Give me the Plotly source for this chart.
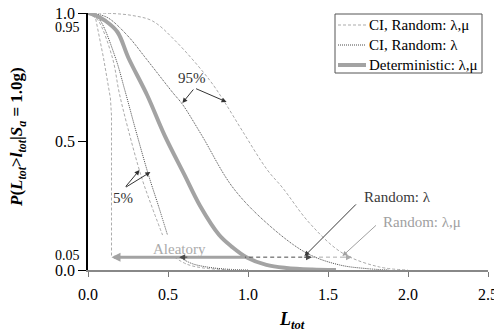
import plotly.graph_objects as go

# ---- data ----
det_x = [0, 0.05, 0.11, 0.184, 0.253, 0.37, 0.478, 0.603, 0.70, 0.82, 0.90, 0.99, 1.115, 1.24, 1.40, 1.55]
det_y = [1.0, 0.99, 0.969, 0.926, 0.825, 0.68, 0.525, 0.37, 0.25, 0.136, 0.09, 0.05, 0.02, 0.008, 0.002, 0.0]

lam95_x = [0, 0.06, 0.128, 0.25, 0.36, 0.53, 0.59, 0.71, 0.903, 1.116, 1.366, 1.57, 1.75, 1.88]
lam95_y = [1.0, 0.995, 0.98, 0.91, 0.825, 0.69, 0.645, 0.525, 0.323, 0.183, 0.066, 0.02, 0.005, 0.0]

lam5_x = [0, 0.04, 0.078, 0.172, 0.23, 0.30, 0.378, 0.44, 0.497, None, 0.57, 0.65, 0.74, 0.85, 1.0]
lam5_y = [1.0, 0.99, 0.969, 0.825, 0.70, 0.54, 0.37, 0.25, 0.136, None, 0.05, 0.025, 0.012, 0.004, 0.0]

lm95_x = [0, 0.153, 0.28, 0.403, 0.547, 0.76, 0.853, 0.966, 1.12, 1.216, 1.384, 1.59, 1.82, 2.0]
lm95_y = [1.0, 0.998, 0.99, 0.969, 0.891, 0.739, 0.654, 0.54, 0.39, 0.32, 0.183, 0.066, 0.012, 0.0]

lm5_x = [0, 0.03, 0.066, 0.153, 0.195, 0.25, 0.334, 0.40, 0.466, None, 0.54, 0.62, 0.72, 0.90]
lm5_y = [1.0, 0.99, 0.969, 0.825, 0.69, 0.55, 0.362, 0.245, 0.136, None, 0.05, 0.022, 0.008, 0.0]

drop_x = [0, 0.047, 0.097, 0.14, 0.147, 0.147]
drop_y = [1.0, 0.981, 0.825, 0.669, 0.60, 0.05]

level = 0.05
aleatory_x = [0.147, 0.99]
rand_lam_x = [0.57, 1.40]
rand_lm_x = [1.40, 1.65]

x_ticks = [0.0, 0.5, 1.0, 1.5, 2.0, 2.5]
x_ticktext = ["0.0", "0.5", "1.0", "1.5", "2.0", "2.5"]
y_ticks = [0.0, 0.5, 1.0]
y_ticktext = ["0.0", "0.5", "1.0"]
y_extra = [0.95, 0.05]
y_extratext = ["0.95", "0.05"]

legend_names = ["CI, Random: λ,μ", "CI, Random: λ", "Deterministic: λ,μ"]

FONT = "Liberation Serif"
LIGHT = "#ababab"
DARK = "#4a4a4a"
THICK = "#a3a3a3"
LDASH = "3px,2px"
DDOT = "1px,1px"

# the page body has an 8px margin, so the figure is sized to fit the window
OFF = 8
W, H = 502 - OFF, 331 - OFF
ML, MR, MT, MB = 80, 14, 5, 61
PW, PH = W - ML - MR, H - MT - MB

def px2paper(px, py):
    """window pixel -> paper coordinates"""
    fx, fy = px - OFF, py - OFF
    return (fx - ML) / PW, (H - MB - fy) / PH

fig = go.Figure()

styles = [dict(color=LIGHT, width=1, dash=LDASH),
          dict(color=DARK, width=1, dash=DDOT),
          dict(color=THICK, width=4)]

# CI random lambda,mu (light dashed)
fig.add_trace(go.Scatter(x=lm95_x, y=lm95_y, mode="lines", name=legend_names[0] + " 95%",
                         line=dict(**styles[0], shape="spline")))
fig.add_trace(go.Scatter(x=lm5_x, y=lm5_y, mode="lines", name=legend_names[0] + " 5%",
                         line=dict(**styles[0], shape="spline")))
fig.add_trace(go.Scatter(x=drop_x, y=drop_y, mode="lines", name="drop",
                         line=dict(color=LIGHT, width=1, dash=LDASH)))
# CI random lambda (dark dotted)
fig.add_trace(go.Scatter(x=lam95_x, y=lam95_y, mode="lines", name=legend_names[1] + " 95%",
                         line=dict(**styles[1], shape="spline")))
fig.add_trace(go.Scatter(x=lam5_x, y=lam5_y, mode="lines", name=legend_names[1] + " 5%",
                         line=dict(**styles[1], shape="spline")))
# deterministic
fig.add_trace(go.Scatter(x=det_x, y=det_y, mode="lines", name=legend_names[2],
                         line=dict(**styles[2], shape="spline")))

# horizontal dashed ranges at the 0.05 level
fig.add_trace(go.Scatter(x=rand_lam_x, y=[level, level], mode="lines", name="Random: λ range",
                         line=dict(color=DARK, width=1, dash="4px,3px")))
fig.add_trace(go.Scatter(x=rand_lm_x, y=[level, level], mode="lines", name="Random: λ,μ range",
                         line=dict(color=LIGHT, width=1, dash="4px,3px")))

ann = []
shapes = []

def arrow(x, y, ax, ay, color, width=1, size=1.0, head=2):
    ann.append(dict(x=x, y=y, ax=ax, ay=ay, xref="x", yref="y", axref="x", ayref="y",
                    text="", showarrow=True, arrowhead=head, arrowsize=size,
                    arrowwidth=width, arrowcolor=color))

def label(x, y, text, size, color):
    ann.append(dict(x=x, y=y, xref="x", yref="y", text=text, showarrow=False,
                    xanchor="center", yanchor="middle",
                    font=dict(family=FONT, size=size, color=color)))

# Aleatory label and arrows
label(0.572, 0.083, "Aleatory", 15, "#ababab")
arrow(aleatory_x[0], level, aleatory_x[1], level, THICK, width=3, size=0.6)
arrow(rand_lam_x[0], level, rand_lam_x[0] + 0.06, level, DARK, width=1, size=1.2)
arrow(rand_lam_x[1], level, rand_lam_x[1] - 0.06, level, DARK, width=1, size=1.2)
arrow(rand_lm_x[1], level, rand_lm_x[1] - 0.06, level, LIGHT, width=1, size=1.2)

# 95% label and arrows
label(0.647, 0.747, "95%", 15, "#333")
arrow(0.59, 0.65, 0.666, 0.708, "#333")
arrow(0.866, 0.654, 0.666, 0.708, "#333")

# 5% label and arrows
label(0.216, 0.28, "5%", 15, "#333")
arrow(0.322, 0.389, 0.228, 0.319, "#333")
arrow(0.39, 0.381, 0.228, 0.319, "#333")

# Random labels
label(1.934, 0.284, "Random: λ", 15, "#3a3a3a")
arrow(1.353, 0.054, 1.684, 0.261, "#3a3a3a")
label(2.09, 0.187, "Random: λ,μ", 15, "#a0a0a0")
arrow(1.59, 0.054, 1.809, 0.179, "#a0a0a0")

# extra y labels 0.95 / 0.05
for v, t, ys in zip(y_extra, y_extratext, [-2, 2]):
    ann.append(dict(x=0, y=v, xref="paper", yref="y", text=t, showarrow=False,
                    xanchor="right", yanchor="middle", xshift=-6, yshift=ys,
                    font=dict(family=FONT, size=14, color="black")))

# axis titles
tx, ty = px2paper(18, 137)
ann.append(dict(x=tx, y=ty, xref="paper", yref="paper", textangle=-90, showarrow=False,
                xanchor="center", yanchor="middle",
                text="<b><i>P</i>(<i>L</i><sub><i>tot</i></sub>><i>l</i><sub><i>tot</i></sub>|<i>S</i><sub><i>a</i></sub> = 1.0g)</b>",
                font=dict(family=FONT, size=17, color="black")))
tx, ty = px2paper(292, 320)
ann.append(dict(x=tx, y=ty, xref="paper", yref="paper", showarrow=False,
                xanchor="center", yanchor="middle",
                text="<b><i>L</i><sub><i>tot</i></sub></b>",
                font=dict(family=FONT, size=18, color="black")))

# legend (box, samples, names)
bx0, by0 = px2paper(335, 14)
bx1, by1 = px2paper(482, 73)
shapes.append(dict(type="rect", xref="paper", yref="paper", x0=bx0, y0=by1, x1=bx1, y1=by0,
                   line=dict(color="#555", width=1), fillcolor="white", layer="above"))
for i, (nm, st) in enumerate(zip(legend_names, styles)):
    py = 25 + 20 * i
    sx0, sy = px2paper(338, py)
    sx1, _ = px2paper(366, py)
    shapes.append(dict(type="line", xref="paper", yref="paper", x0=sx0, y0=sy, x1=sx1, y1=sy,
                       line=st, layer="above"))
    lx, _ = px2paper(367, py)
    ann.append(dict(x=lx, y=sy, xref="paper", yref="paper", xanchor="left", yanchor="middle",
                    showarrow=False, text=nm, font=dict(family=FONT, size=15, color="black")))

fig.update_layout(
    width=W, height=H,
    margin=dict(l=ML, r=MR, t=MT, b=MB),
    paper_bgcolor="white", plot_bgcolor="white",
    font=dict(family=FONT, color="black"),
    showlegend=False,
    annotations=ann, shapes=shapes,
    xaxis=dict(range=[0, 2.5], tickvals=x_ticks, ticktext=x_ticktext,
               ticks="outside", ticklen=5, tickcolor="#777", ticklabelstandoff=4,
               ticklabeloverflow="allow",
               showline=True, linecolor="#888", linewidth=1.5,
               showgrid=False, zeroline=False, automargin=False,
               tickfont=dict(family=FONT, size=16, color="black")),
    yaxis=dict(range=[0, 1], tickvals=y_ticks, ticktext=y_ticktext,
               ticks="outside", ticklen=8, tickcolor="black",
               ticklabeloverflow="allow",
               showline=True, linecolor="black", linewidth=1.5,
               showgrid=False, zeroline=False, automargin=False,
               tickfont=dict(family=FONT, size=16, color="black")),
)

fig.write_html("out.html")
